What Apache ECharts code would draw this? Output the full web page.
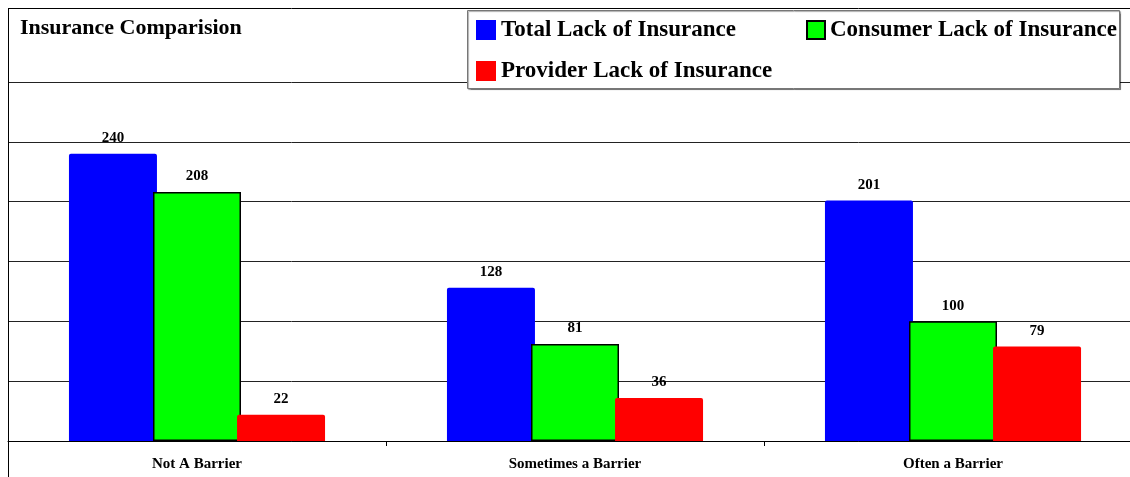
<!DOCTYPE html>
<html>
<head>
<meta charset="utf-8">
<script src="https://cdn.jsdelivr.net/npm/echarts@6/dist/echarts.min.js"></script>
<style>
    html, body { margin: 0; padding: 0; background: #fff; overflow: hidden; }
    /* 图表比窗口略宽，最右边的一截被裁掉 */
    #chart { width: 1142px; height: 477px; }
</style>
</head>
<body>
<div id="chart"></div>
<script>
// 数据
const categories = ['Not A Barrier', 'Sometimes a Barrier', 'Often a Barrier']
const totalLack = [240, 128, 201]
const consumerLack = [208, 81, 100]
const providerLack = [22, 36, 79]

const serif = '"Liberation Serif", "Times New Roman", serif'

const labelStyle = {
    show: true,
    position: 'top',
    distance: 8,
    color: '#000',
    fontFamily: serif,
    fontWeight: 'bold',
    fontSize: 15,
}

const chart = echarts.init(document.getElementById('chart'))

const option = {
    animation: false,
    backgroundColor: '#fff',
    title: {
        text: 'Insurance Comparision',
        left: 20,
        top: 17,
        padding: 0,
        textStyle: {
            fontFamily: serif,
            fontWeight: 'bold',
            fontSize: 22,
            color: '#000',
        },
    },
    graphic: [
        // 外框
        {
            type: 'line',
            z: 10,
            shape: { x1: 8, y1: 8.5, x2: 1142, y2: 8.5 },
            style: { stroke: '#000', lineWidth: 1 },
        },
        {
            type: 'line',
            z: 10,
            shape: { x1: 8.5, y1: 8, x2: 8.5, y2: 477 },
            style: { stroke: '#000', lineWidth: 1 },
        },
        // 图例框
        {
            type: 'rect',
            z: 3,
            shape: { x: 467.5, y: 10.5, width: 652, height: 78 },
            style: {
                fill: '#fff',
                stroke: '#777',
                lineWidth: 1,
                shadowColor: 'rgba(0,0,0,0.35)',
                shadowOffsetX: 1,
                shadowOffsetY: 1,
                shadowBlur: 1,
            },
        },
    ],
    legend: [
        {
            data: ['Total Lack of Insurance', 'Provider Lack of Insurance'],
            orient: 'vertical',
            left: 476,
            top: 17,
            padding: 0,
            itemGap: 15,
            itemWidth: 20,
            itemHeight: 20,
            icon: 'rect',
            textStyle: {
                fontFamily: serif,
                fontWeight: 'bold',
                fontSize: 23,
                lineHeight: 26,
                color: '#000',
            },
        },
        {
            data: ['Consumer Lack of Insurance'],
            orient: 'vertical',
            left: 806,
            top: 17,
            padding: 0,
            itemWidth: 18,
            itemHeight: 18,
            icon: 'rect',
            textStyle: {
                fontFamily: serif,
                fontWeight: 'bold',
                fontSize: 23,
                lineHeight: 26,
                color: '#000',
            },
        },
    ],
    grid: {
        left: 8,
        right: 0,
        top: 82,
        bottom: 36,
        containLabel: false,
    },
    xAxis: {
        type: 'category',
        data: categories,
        boundaryGap: true,
        axisLine: {
            lineStyle: { color: '#000', width: 1 },
        },
        axisTick: {
            show: true,
            length: 5,
            lineStyle: { color: '#000' },
        },
        axisLabel: {
            color: '#000',
            fontFamily: serif,
            fontWeight: 'bold',
            fontSize: 15,
            margin: 16,
        },
    },
    yAxis: {
        type: 'value',
        min: 0,
        max: 300,
        interval: 50,
        axisLine: { show: false },
        axisTick: { show: false },
        axisLabel: { show: false },
        splitLine: {
            show: true,
            lineStyle: { color: '#222', width: 1 },
        },
    },
    series: [
        {
            name: 'Total Lack of Insurance',
            type: 'bar',
            data: totalLack,
            barWidth: 88,
            barGap: '-4.5%',
            label: labelStyle,
            itemStyle: {
                color: '#0000ff',
                borderRadius: [2, 2, 0, 0],
            },
        },
        {
            name: 'Consumer Lack of Insurance',
            type: 'bar',
            data: consumerLack,
            barWidth: 88,
            barGap: '-4.5%',
            label: labelStyle,
            itemStyle: {
                color: '#00ff00',
                borderColor: '#000',
                borderWidth: 1.5,
            },
        },
        {
            name: 'Provider Lack of Insurance',
            type: 'bar',
            data: providerLack,
            barWidth: 88,
            barGap: '-4.5%',
            label: labelStyle,
            itemStyle: {
                color: '#ff0000',
                borderRadius: [2, 2, 0, 0],
            },
        },
    ],
}

option && chart.setOption(option)
</script>
</body>
</html>
